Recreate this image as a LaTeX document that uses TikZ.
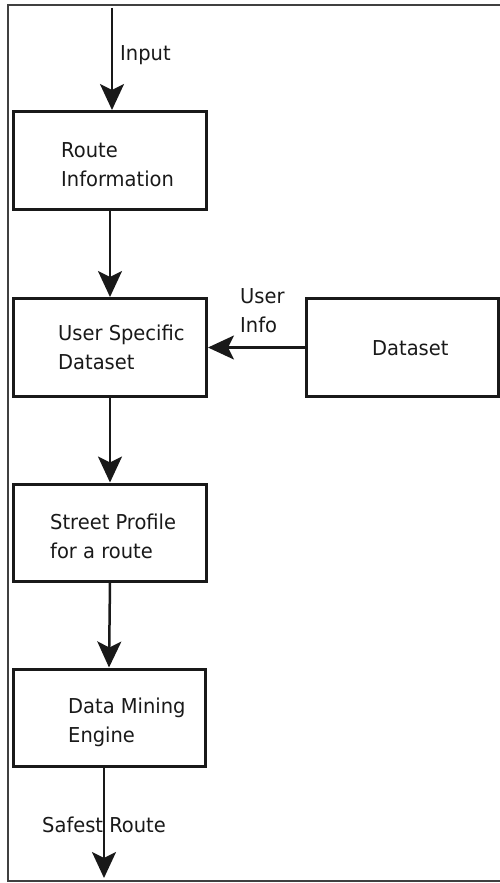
\documentclass[tikz,border=0pt]{standalone}
\usepackage{fontspec}
\setmainfont{DejaVu Sans}[FakeStretch=0.95]
\usetikzlibrary{arrows.meta}
\begin{document}
\begin{tikzpicture}[x=1pt,y=-1pt,
  box/.style={draw=black!90, line width=3pt, minimum width=193pt, minimum height=98pt, inner sep=0pt},
  txt/.style={inner sep=0pt, align=left, anchor=west, text=black!90, font=\fontsize{20.5}{29}\selectfont},
  conn/.style={line width=2.5pt, draw=black!90, -{Stealth[length=26pt,width=24pt,inset=6pt]}},
  frame/.style={draw=black!75, line width=1.5pt}]
\useasboundingbox (0,0) rectangle (500,883);
\draw[frame] (502,5) -- (8,5) -- (8,881) -- (502,881);
\node[box] (route) at (110,160.5) {};
\node[box] (user) at (110,347.5) {};
\node[box, minimum width=192pt] (data) at (402,347.5) {};
\node[box, minimum height=97pt] (street) at (110,532.5) {};
\node[box, minimum height=97pt, minimum width=192pt] (dm) at (109,717.5) {};
\node[txt] (routet) at (61,164.5) {Route\\Information};
\node[txt] (usert) at (58,347.5) {User Specific\\Dataset};
\node[txt] (datat) at (372,348) {Dataset};
\node[txt] (streett) at (50,536) {Street Profile\\for a route};
\node[txt] (dmt) at (68,722.5) {Data Mining\\Engine};
\coordinate (in) at (112,8);
\coordinate (out) at (104,878);
\draw[conn] (in) -- (in |- route.north);
\draw[conn] (route.south) -- (user.north);
\draw[conn] (user.south) -- (street.north);
\draw[conn] (street.south) -- (dm.north);
\draw[conn] (data.west) -- (user.east);
\draw[conn] (dm.south -| out) -- (out);
\node[txt] (inlbl) at (120,55) {Input};
\node[txt] (uilbl) at (240,311) {User\\Info};
\node[txt] (safelbl) at (42,825) {Safest Route};
\end{tikzpicture}
\end{document}
